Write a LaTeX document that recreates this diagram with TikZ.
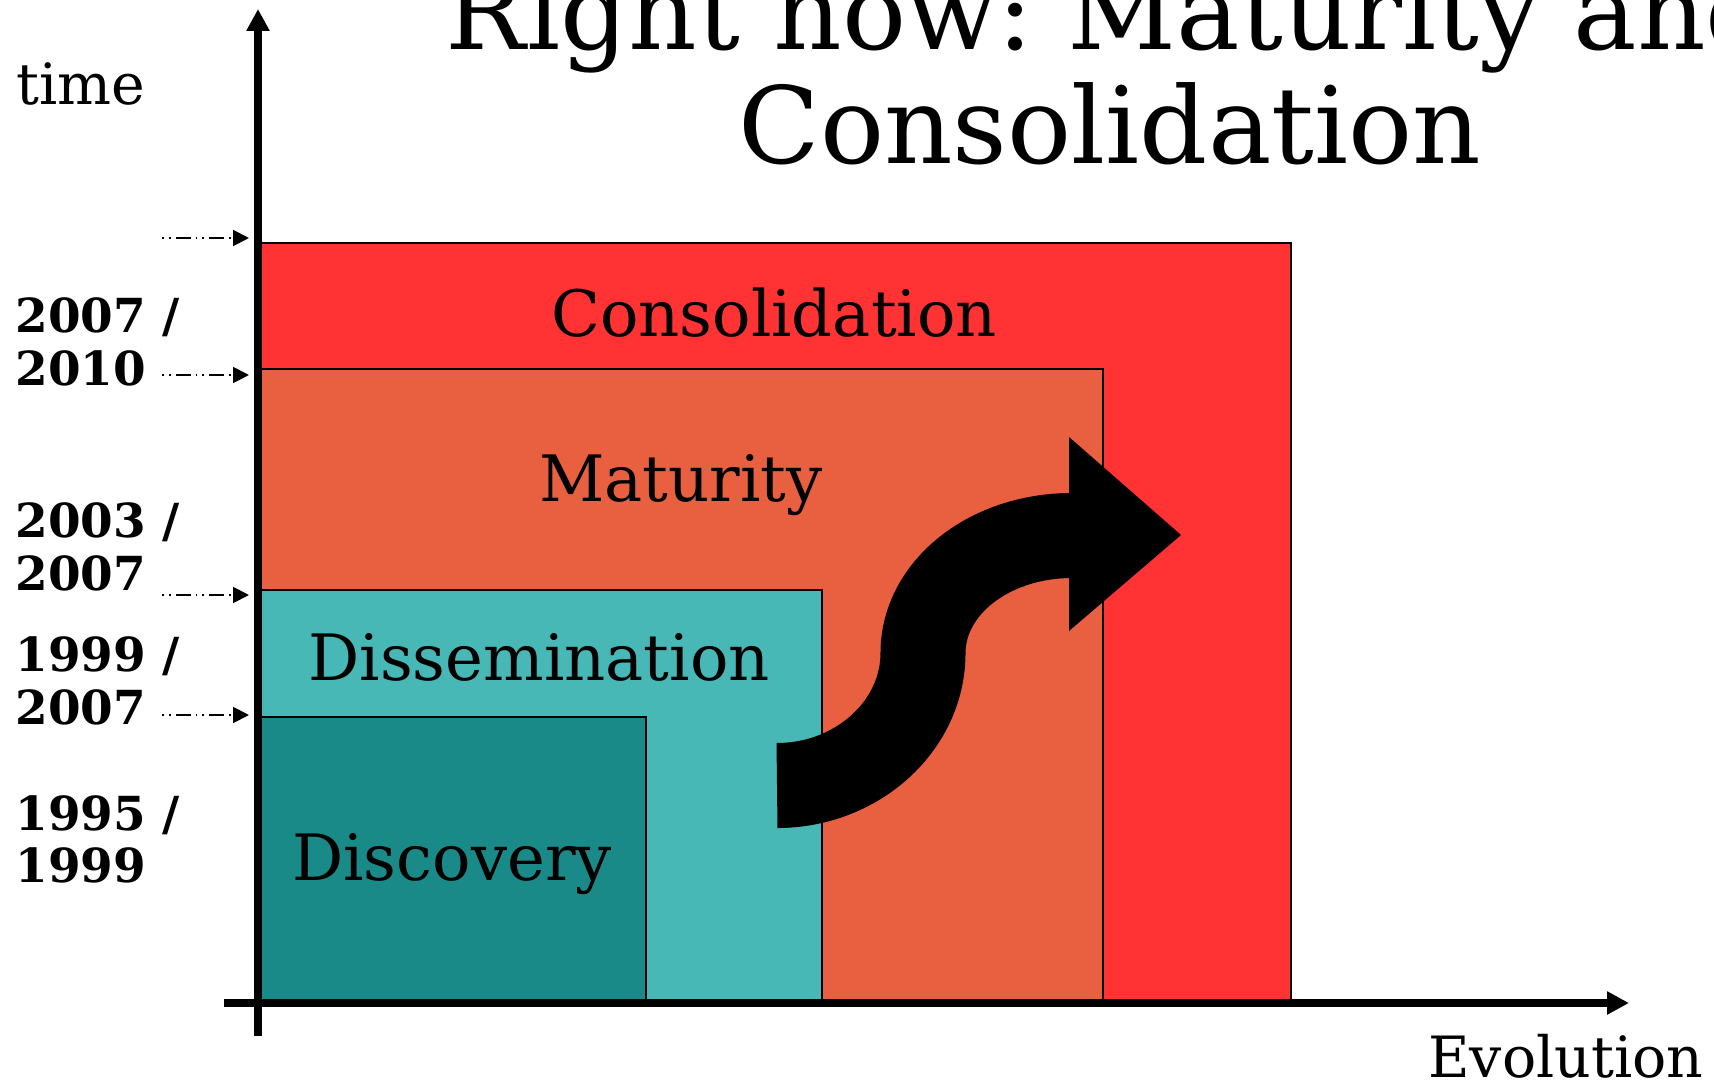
\documentclass[tikz,border=0pt]{standalone}
\usepackage{fontspec}
\setmainfont{DejaVu Serif}
\usetikzlibrary{arrows.meta}
\frenchspacing
\definecolor{consolred}{HTML}{FF3333}
\definecolor{maturred}{HTML}{E96040}
\definecolor{dissemteal}{HTML}{48B8B7}
\definecolor{discovteal}{HTML}{1A8A88}
\tikzset{
  >= {Triangle[length=9pt,width=9pt]},
  ax/.style={line width=4pt, -{Triangle[length=12.5pt,width=12.5pt]}},
  tk/.style={line width=1.1pt, dash pattern=on 1.1pt off 2.8pt on 1.1pt off 2.8pt on 8.5pt off 2.8pt, ->},
  bx/.style={draw=black, line width=0.85pt},
  lb/.style={inner sep=0pt, anchor=base, font=\fontsize{36.4pt}{40pt}\selectfont},
  yr/.style={inner sep=0pt, anchor=base west, align=left, font=\bfseries\fontsize{26.7pt}{29.6pt}\selectfont},
  al/.style={inner sep=0pt, anchor=base west, font=\fontsize{32.4pt}{36pt}\selectfont}
}

\begin{document}
\begin{tikzpicture}[x=0.02cm, y=-0.02cm]
  \clip (0,0) rectangle (1714,1081);
  \draw[bx, fill=consolred] (260,1003) rectangle (1291,243);
  \draw[bx, fill=maturred] (260,1003) rectangle (1103,369);
  \draw[bx, fill=dissemteal] (260,1003) rectangle (822,590);
  \draw[bx, fill=discovteal] (260,1003) rectangle (646,717);
  \node[lb] (consol) at (774,337) {Consolidation};
  \node[lb] (matur) at (681,501) {Maturity};
  \node[lb] (dissem) at (539,680) {Dissemination};
  \node[lb] (discov) at (452,880) {Discovery};

  \coordinate (sw) at (777,785.5);
  \coordinate (sm) at (923,653);
  \coordinate (se) at (1072,535.5);
  \draw[line width=48.4pt] (sw) .. controls (857,785.5) and (923,726) .. (sm)
    .. controls (923,588) and (989,535.5) .. (se);
  \fill (1069,437) -- (1181,535) -- (1069,631) -- cycle;

  \coordinate (ybot) at (258,1036);
  \coordinate (ytop) at (258,9);
  \coordinate (xleft) at (224,1003);
  \coordinate (xright) at (1629,1003);
  \draw[ax] (ybot) -- (ytop);
  \draw[ax] (xleft) -- (xright);

  \foreach \n/\y in {a/238, b/375, c/595, d/715} {
    \coordinate (s\n) at (162,\y);
    \coordinate (e\n) at (249,\y);
    \draw[tk] (s\n) -- (e\n);
  }

  \node[yr] (y2010) at (15,385) {2007 /\\2010};
  \node[yr] (y2007) at (15,590) {2003 /\\2007};
  \node[yr] (y1999) at (15,724) {1999 /\\2007};
  \node[yr] (y1995) at (15,882) {1995 /\\1999};
  \node[al] (time) at (16,105) {time};
  \node[al] (evol) at (1428,1077) {Evolution};
  \node[inner sep=0pt, anchor=base, align=center, font=\fontsize{60.66pt}{65.4pt}\selectfont]
    (title) at (1110,164) {Right now: Maturity and\\Consolidation};
\end{tikzpicture}
\end{document}
